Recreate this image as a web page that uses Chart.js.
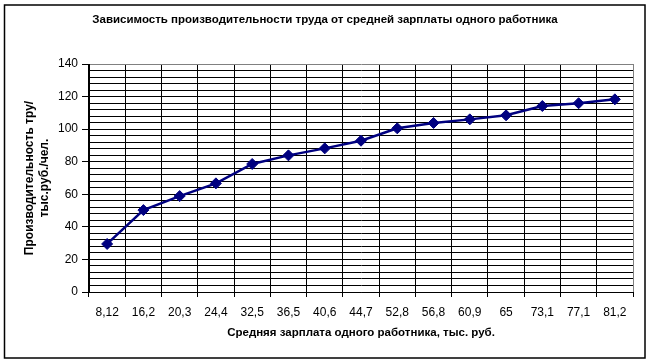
<!DOCTYPE html>
<html>
<head>
<meta charset="utf-8">
<script src="https://cdn.jsdelivr.net/npm/chart.js@4/dist/chart.umd.min.js"></script>
<style>
html,body{margin:0;padding:0;background:#fff;}
canvas{display:block;}
</style>
</head>
<body>
<canvas id="c" width="650" height="364"></canvas>
<script>
const categories = ['8,12','16,2','20,3','24,4','32,5','36,5','40,6','44,7','52,8','56,8','60,9','65','73,1','77,1','81,2'];
const productivity = [29.5, 50.3, 58.9, 66.7, 78.6, 83.9, 88.2, 92.9, 100.5, 103.8, 106.0, 108.5, 114.2, 115.9, 118.3];
const yMin = 0, yMax = 140, yGridStep = 4, yLabelStep = 20;
const chartTitle = 'Зависимость производительности труда от средней зарплаты одного работника';
const xTitle = 'Средняя зарплата одного работника, тыс. руб.';
const yTitle = ['Производительность тру/', 'тыс.руб./чел.'];

const FONT = '"Liberation Sans", Arial, sans-serif';
const NAVY = '#000080';

const framePlugin = {
  id: 'frame',
  afterDraw(chart) {
    const ctx = chart.ctx;
    ctx.save();
    ctx.strokeStyle = '#000';
    ctx.lineWidth = 1.5;
    ctx.strokeRect(4.5, 5, 640.5, 353);
    ctx.restore();
  }
};

new Chart(document.getElementById('c'), {
  type: 'line',
  data: {
    labels: categories,
    datasets: [{
      data: productivity,
      borderColor: NAVY,
      backgroundColor: NAVY,
      borderWidth: 2.5,
      tension: 0,
      pointStyle: 'rectRot',
      pointRadius: 5.5,
      pointBorderWidth: 1,
      pointBorderColor: NAVY,
      pointBackgroundColor: NAVY,
      fill: false
    }]
  },
  options: {
    responsive: false,
    animation: false,
    layout: { padding: { left: 0, right: 0, top: 0, bottom: 0 } },
    plugins: {
      legend: { display: false },
      tooltip: { enabled: false },
      title: {
        display: true,
        text: chartTitle,
        color: '#000',
        font: { family: FONT, size: 11.5, weight: 'bold', lineHeight: 1.2 },
        padding: { top: 13.1, bottom: 37.1 }
      }
    },
    scales: {
      x: {
        type: 'category',
        offset: true,
        afterFit(scale) { scale.height = 72; },
        grid: {
          offset: true,
          color: (ctx) => ctx.index === undefined ? '#808080' : '#000',
          lineWidth: 1,
          tickLength: 5,
          tickColor: '#000'
        },
        border: { display: true, color: '#000', width: 1 },
        ticks: {
          autoSkip: false,
          maxRotation: 0,
          minRotation: 0,
          color: '#000',
          padding: 8,
          font: { family: FONT, size: 12 }
        },
        title: {
          display: true,
          text: xTitle,
          color: '#000',
          font: { family: FONT, size: 11.5, weight: 'bold', lineHeight: 1.2 },
          padding: { top: 0, bottom: 24 }
        }
      },
      y: {
        min: yMin,
        max: yMax,
        afterFit(scale) { scale.width = 89; },
        grid: {
          color: (ctx) => (ctx.tick && ctx.tick.value === yMax) ? '#808080' : '#000',
          lineWidth: 1,
          tickLength: 7,
          tickColor: (ctx) => (ctx.tick && ctx.tick.value % yLabelStep === 0) ? '#000' : 'rgba(0,0,0,0)'
        },
        border: { display: true, color: '#000', width: 1 },
        ticks: {
          stepSize: yGridStep,
          autoSkip: false,
          color: '#000',
          padding: 4,
          font: { family: FONT, size: 12 },
          callback: (v) => (v % yLabelStep === 0 ? String(v) : '')
        },
        title: {
          display: true,
          text: yTitle,
          color: '#000',
          font: { family: FONT, size: 12, weight: 'bold', lineHeight: 1.25 },
          padding: { top: 22, bottom: 0 }
        }
      },
      yRight: {
        position: 'right',
        min: yMin,
        max: yMax,
        afterFit(scale) { scale.width = 17; },
        grid: { display: false, drawTicks: false },
        border: { display: false },
        ticks: { display: false },
        title: { display: false }
      }
    }
  },
  plugins: [framePlugin]
});
</script>
</body>
</html>
